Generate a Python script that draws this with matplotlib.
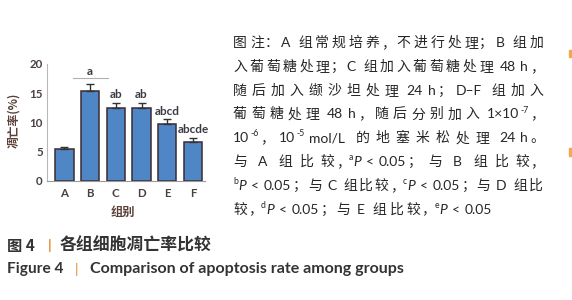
import matplotlib
matplotlib.use('Agg')
import matplotlib.pyplot as plt
from matplotlib.patches import Rectangle

# ---------------- data ----------------
groups = ['A', 'B', 'C', 'D', 'E', 'F']
rate = [5.5, 15.3, 12.5, 12.5, 9.7, 6.7]
err = [0.3, 1.2, 0.9, 0.9, 0.8, 0.7]
sig = ['', 'a', 'ab', 'ab', 'abcd', 'abcde']
yticks = [0, 5, 10, 15, 20]
ylabel = '凋亡率(%)'
xlabel = '组别'

note_lines = [
    "图注：A 组常规培养，不进行处理；B 组加",
    "入葡萄糖处理；C 组加入葡萄糖处理 48 h，",
    "随后加入缬沙坦处理 24 h；D–F 组加入",
    "葡萄糖处理 48 h，随后分别加入 1×10^{-7}，",
    "10^{-6}，10^{-5} mol/L 的地塞米松处理 24 h。",
    "与 A 组比较，^{a}P < 0.05；与 B 组比较，",
    "^{b}P < 0.05；与 C 组比较，^{c}P < 0.05；与 D 组比",
    "较，^{d}P < 0.05；与 E 组比较，^{e}P < 0.05",
]
note_ends = [543, 543, 543, 543, 543, 543, 543, 493]

cap_cn_num = '图 4'
cap_cn = '各组细胞凋亡率比较'
cap_en_num = 'Figure 4'
cap_en = 'Comparison of apoptosis rate among groups'

# ---------------- figure ----------------
W, H = 572, 300
fig = plt.figure(figsize=(W / 100, H / 100), dpi=100)
renderer = fig.canvas.get_renderer()
CJK = ['Noto Sans CJK SC', 'DejaVu Sans']
LAT = ['Lato', 'DejaVu Sans']


def fx(x):
    return x / W


def fy(y):
    return 1 - y / H


# ---------------- bar chart ----------------
ax = fig.add_axes([fx(47), fy(180.7), (205 - 47) / W, (180.7 - 64) / H])
xpos = list(range(len(groups)))
ax.bar(xpos, rate, width=0.72, color='#4f86c6', edgecolor='#3b2b33',
       linewidth=1.1, zorder=2)
ax.errorbar(xpos, rate, yerr=[[0] * len(err), err], fmt='none',
            ecolor='#333333', elinewidth=1.0, capsize=3.2, capthick=1.0,
            zorder=3)
for i, lab in enumerate(sig):
    if not lab:
        continue
    top = rate[i] + err[i]
    if lab == 'a':
        ax.plot([i - 0.67, i + 0.69], [top + 1.05, top + 1.05],
                color='#b0b0b0', lw=0.8, zorder=1, clip_on=False)
        ax.text(i, top + 1.35, lab, ha='center', va='bottom',
                fontsize=8.5, fontweight='bold', family=LAT, color='#3a3a44')
    else:
        ax.text(i, top + 0.45, lab, ha='center', va='bottom',
                fontsize=8.5, fontweight='bold', family=LAT, color='#3a3a44')

ax.set_xlim(-0.68, 5.47)
ax.set_ylim(0, 20)
ax.set_yticks(yticks)
ax.set_xticks(xpos)
ax.set_xticklabels(groups)
for s in ['top', 'right']:
    ax.spines[s].set_visible(False)
ax.spines['left'].set_color('#b8b8b8')
ax.spines['bottom'].set_color('#9a9a9a')
ax.spines['left'].set_linewidth(0.8)
ax.spines['bottom'].set_linewidth(0.8)
ax.tick_params(axis='y', length=0, pad=3, labelsize=8.3, labelcolor='#4a4040')
ax.tick_params(axis='x', length=0, pad=5, labelsize=8.3, labelcolor='#4a4040')
for t in ax.get_xticklabels() + ax.get_yticklabels():
    t.set_fontweight('bold')
    t.set_family(LAT)
ax.patch.set_alpha(0)

fig.text(fx(14), fy(120), ylabel, rotation=90, ha='center', va='center',
         fontsize=8.5, family=CJK, color='#5a4038', fontweight='bold')
fig.text(fx(123), fy(212), xlabel, ha='center', va='center',
         fontsize=8.8, family=CJK, color='#5a4038', fontweight='bold')

# ---------------- notes (justified) ----------------
FS = 10.0
FS_PX = FS * 100 / 72
PUNCT = '，；：。'


def tokenize(s):
    toks = []
    buf = []
    state = {'sp': False}

    def push(t, k):
        toks.append((t, k, state['sp']))
        state['sp'] = False

    def flush():
        if buf:
            push(''.join(buf), 'l')
            buf.clear()

    i = 0
    while i < len(s):
        ch = s[i]
        if ch == ' ':
            flush()
            state['sp'] = True
        elif ch == '^':
            flush()
            j = s.index('}', i)
            push(s[i + 2:j], 's')
            i = j
        elif ord(ch) > 0x2E80:
            flush()
            push(ch, 'c')
        elif ch == 'P':
            flush()
            push(ch, 'i')
        else:
            buf.append(ch)
        i += 1
    flush()
    return toks


x_start = 233
base0 = 47.0
line_gap = 23.8
txt_color = '#262626'
for li, line in enumerate(note_lines):
    toks = tokenize(line)
    items = []
    for t, k, sp in toks:
        if k == 'c':
            obj = fig.text(0, 0, t, fontsize=FS, family=CJK, color=txt_color,
                           va='baseline', ha='left' if t in PUNCT else 'center')
            w = FS_PX
        elif k == 's':
            obj = fig.text(0, 0, t, fontsize=FS * 0.62, family=LAT,
                           color=txt_color, va='baseline', ha='left')
            w = obj.get_window_extent(renderer).width + 0.5
        else:
            obj = fig.text(0, 0, t, fontsize=FS, family=LAT, color=txt_color,
                           va='baseline', ha='left',
                           style='italic' if k == 'i' else 'normal')
            w = obj.get_window_extent(renderer).width + 1.0
        items.append((obj, k, t, sp, w))
    nat = []
    stretch = []
    for idx, it in enumerate(items):
        if idx == 0:
            nat.append(0.0)
            stretch.append(False)
            continue
        prev = items[idx - 1]
        nat.append(0.27 * FS_PX if it[3] else 0.0)
        cur_punct = it[1] == 'c' and it[2] in PUNCT
        glued = (it[1] == 's' or prev[1] == 's' or cur_punct or
                 (it[1] != 'c' and prev[1] != 'c'))
        stretch.append(not glued)
    total = sum(it[4] for it in items) + sum(nat)
    ns = max(1, sum(stretch))
    extra = (note_ends[li] - x_start - total) / ns
    base = base0 + li * line_gap
    x = x_start
    for idx, (obj, k, t, sp, w) in enumerate(items):
        if idx > 0:
            x += nat[idx] + (extra if stretch[idx] else 0)
        if k == 'c':
            px = x + 0.08 * FS_PX if t in PUNCT else x + w / 2
            obj.set_position((fx(px), fy(base)))
        elif k == 's':
            obj.set_position((fx(x), fy(base - 0.42 * FS_PX)))
        else:
            obj.set_position((fx(x), fy(base)))
        x += w

# ---------------- caption ----------------
orange = '#e58a2c'
fig.text(fx(7), fy(250.5), cap_cn_num, fontsize=11, fontweight='bold',
         family=CJK, color='#333333', va='baseline', ha='left')
fig.text(fx(50), fy(250.5), '|', fontsize=10, fontweight='bold',
         family=LAT, color=orange, va='baseline', ha='center')
tc = fig.text(fx(60), fy(250.5), cap_cn, fontsize=11.5, fontweight='bold',
              family=CJK, color='#333333', va='baseline', ha='left')
wc = tc.get_window_extent(renderer).width
tc.set_fontsize(11.5 * 152 / wc)

te_num = fig.text(fx(7), fy(273), cap_en_num, fontsize=9, fontweight='bold',
                  family=LAT, color='#333333', va='baseline', ha='left')
wn = te_num.get_window_extent(renderer).width
te_num.set_fontsize(9 * 56 / wn)
fig.text(fx(77), fy(273.5), '|', fontsize=10, family=LAT, color=orange,
         va='baseline', ha='center')
te = fig.text(fx(90), fy(273), cap_en, fontsize=9, fontweight='bold',
              family=LAT, color='#333333', va='baseline', ha='left')
we = te.get_window_extent(renderer).width
te.set_fontsize(9 * 315 / we)

# small orange marks at the right edge
fig.patches.append(Rectangle((fx(569), fy(57)), 3 / W, 7 / H,
                             transform=fig.transFigure, color='#f3a850'))
fig.patches.append(Rectangle((fx(569), fy(156)), 3 / W, 8 / H,
                             transform=fig.transFigure, color='#f3a850'))

fig.savefig('out.png', dpi=100)
